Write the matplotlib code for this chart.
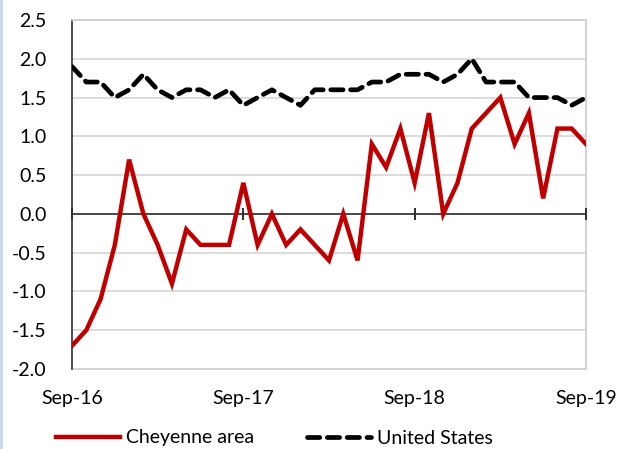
import matplotlib
matplotlib.use("Agg")
import matplotlib.pyplot as plt
from matplotlib.lines import Line2D

months = ["Sep-16","Oct-16","Nov-16","Dec-16","Jan-17","Feb-17","Mar-17","Apr-17","May-17","Jun-17","Jul-17","Aug-17",
          "Sep-17","Oct-17","Nov-17","Dec-17","Jan-18","Feb-18","Mar-18","Apr-18","May-18","Jun-18","Jul-18","Aug-18",
          "Sep-18","Oct-18","Nov-18","Dec-18","Jan-19","Feb-19","Mar-19","Apr-19","May-19","Jun-19","Jul-19","Aug-19",
          "Sep-19"]
cheyenne = [-1.7,-1.5,-1.1,-0.4,0.7,0.0,-0.4,-0.9,-0.2,-0.4,-0.4,-0.4,
            0.4,-0.4,0.0,-0.4,-0.2,-0.4,-0.6,0.0,-0.6,0.9,0.6,1.1,
            0.4,1.3,0.0,0.4,1.1,1.3,1.5,0.9,1.3,0.2,1.1,1.1,0.9]
united_states = [1.9,1.7,1.7,1.5,1.6,1.8,1.6,1.5,1.6,1.6,1.5,1.6,
                 1.4,1.5,1.6,1.5,1.4,1.6,1.6,1.6,1.6,1.7,1.7,1.8,
                 1.8,1.8,1.7,1.8,2.0,1.7,1.7,1.7,1.5,1.5,1.5,1.4,1.5]
tick_labels = ["Sep-16", "Sep-17", "Sep-18", "Sep-19"]
y_ticks = [-2.0,-1.5,-1.0,-0.5,0.0,0.5,1.0,1.5,2.0,2.5]

plt.rcParams['font.family'] = ['Lato', 'DejaVu Sans']
FS = 14

fig = plt.figure(figsize=(6.24, 4.49), dpi=100)
ax = fig.add_axes([72/624, 1-369/449, (586-72)/624, (369-20)/449])

x = list(range(len(months)))
tick_pos = [months.index(t) for t in tick_labels]

for yv in y_ticks:
    ax.axhline(yv, color="#d9d9d9", lw=1.3, zorder=0)

l1, = ax.plot(x, cheyenne, color="#C00000", lw=3.2, solid_joinstyle="miter", zorder=3, label="Cheyenne area")
l2, = ax.plot(x, united_states, color="black", lw=3.4, dashes=(2.6, 1.6), dash_capstyle="round", zorder=3, label="United States")

ax.set_xlim(0, 36)
ax.set_ylim(-2.0, 2.5)
ax.set_yticks(y_ticks)
ax.set_yticklabels([f"{v:.1f}" for v in y_ticks], fontsize=FS)
ax.tick_params(axis="y", length=0, pad=18.5)

# zero axis with tick marks
ax.spines["bottom"].set_position(("data", 0))
ax.spines["bottom"].set_color("#303030")
ax.spines["bottom"].set_linewidth(1.2)
ax.set_xticks(tick_pos)
ax.tick_params(axis="x", direction="inout", length=9, width=1.4, color="#303030", labelbottom=False)
for t in ax.xaxis.get_major_ticks():
    t.tick1line.set_clip_on(False)
ax.spines["left"].set_color("#303030")
ax.spines["left"].set_linewidth(1.2)
ax.spines["top"].set_color("#d0d0d0")
ax.spines["right"].set_color("#d0d0d0")
ax.spines["top"].set_linewidth(1.3)
ax.spines["right"].set_linewidth(1.3)
ax.spines["right"].set_zorder(1)

sec = ax.secondary_xaxis(0)
sec.set_xticks(tick_pos)
sec.set_xticklabels(tick_labels, fontsize=FS)
sec.tick_params(length=0, pad=15)
sec.spines["bottom"].set_color("#d0d0d0")
sec.spines["bottom"].set_linewidth(1.3)

leg = fig.legend(handles=[l1, l2], loc="center", bbox_to_anchor=(0.44, 1-438/449), ncol=2,
                 frameon=False, fontsize=FS, handlelength=3.3, handletextpad=0.3, columnspacing=2.7)

fig.add_artist(Line2D([0.002, 0.002], [0, 1], transform=fig.transFigure, color="#c5d5ea", lw=2))

fig.savefig("out.png", dpi=100)
